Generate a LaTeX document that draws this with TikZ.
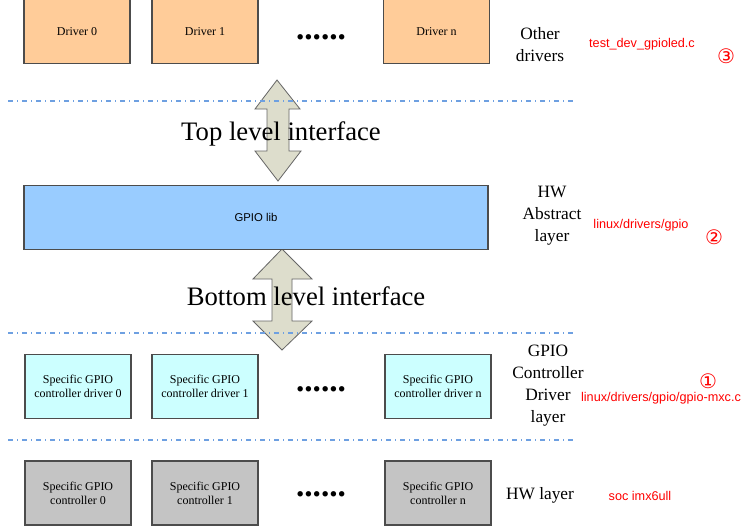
\documentclass[tikz,border=0pt]{standalone}
\usepackage{fontspec}
\setmainfont{Liberation Serif}
\newfontfamily\pathfont{Liberation Sans}
\newfontfamily\circfont{DejaVu Sans}

\definecolor{drvorange}{RGB}{255,204,153}
\definecolor{libblue}{RGB}{153,204,255}
\definecolor{ctrlcyan}{RGB}{204,255,255}
\definecolor{hwgray}{RGB}{196,196,196}
\definecolor{ifacefill}{RGB}{221,221,204}
\definecolor{sepblue}{RGB}{110,160,225}

\tikzset{
  layerbox/.style={draw=black!70, line width=0.9pt, minimum width=79.5pt,
    minimum height=48pt, align=center, inner sep=1pt,
    font=\fontsize{9}{10.5}\selectfont},
  layername/.style={align=center, font=\fontsize{13}{16.5}\selectfont},
  ifacename/.style={anchor=base, font=\fontsize{20}{24}\selectfont},
  srcpath/.style={text=red, font=\pathfont\fontsize{9.5}{11}\selectfont},
  srcnum/.style={text=red, font=\circfont\fontsize{15}{16}\selectfont},
  moredots/.style={anchor=base, font=\fontsize{25}{26}\bfseries\selectfont},
  iface/.style={draw=black!60, fill=ifacefill, line width=0.6pt},
  layersep/.style={draw=sepblue, line width=0.8pt,
    dash pattern=on 3.75pt off 3pt on 0.75pt off 3pt}
}

\begin{document}
\begin{tikzpicture}[x=0.75pt,y=-0.75pt]
  \useasboundingbox[fill=white] (0,0) rectangle (745,529);

  % interfaces between the layers
  \draw[iface] (277,80) -- (300,109) -- (289,109) -- (289,151) -- (301,151)
    -- (278,181) -- (255,151) -- (267,151) -- (267,109) -- (255,109) -- cycle;
  \draw[iface] (282,249) -- (312,279) -- (292,279) -- (292,321) -- (312,321)
    -- (282,350) -- (253,321) -- (272,321) -- (272,279) -- (253,279) -- cycle;

  % layer separators
  \draw[layersep] (8,101) -- (576,101);
  \draw[layersep] (8,333) -- (576,333);
  \draw[layersep] (8,440) -- (576,440);

  % other drivers
  \node[layerbox, fill=drvorange] (drv0) at (77,31.5) {Driver 0};
  \node[layerbox, fill=drvorange] (drv1) at (205,31.5) {Driver 1};
  \node[layerbox, fill=drvorange] (drvn) at (436.5,31.5) {Driver n};
  \node[moredots] (drvdots) at (321,39) {......};

  % gpio lib
  \node[layerbox, fill=libblue, minimum width=348pt,
    font=\pathfont\fontsize{8.5}{10}\selectfont] (gpiolib) at (256,217.5) {GPIO lib};

  % controller drivers
  \node[layerbox, fill=ctrlcyan] (ctl0) at (78,386.5) {Specific GPIO\\controller driver 0};
  \node[layerbox, fill=ctrlcyan] (ctl1) at (205,386.5) {Specific GPIO\\controller driver 1};
  \node[layerbox, fill=ctrlcyan] (ctln) at (438,386.5) {Specific GPIO\\controller driver n};
  \node[moredots] (ctldots) at (321,391) {......};

  % hardware
  \node[layerbox, fill=hwgray] (hw0) at (78,493) {Specific GPIO\\controller 0};
  \node[layerbox, fill=hwgray] (hw1) at (205,493) {Specific GPIO\\controller 1};
  \node[layerbox, fill=hwgray] (hwn) at (438,493) {Specific GPIO\\controller n};
  \node[moredots] (hwdots) at (321,496) {......};

  % interface names
  \node[ifacename] (topif) at (281,140) {Top level interface};
  \node[ifacename] (botif) at (306,305) {Bottom level interface};

  % layer names
  \node[layername] (othername) at (540,45) {Other\\drivers};
  \node[layername] (absname) at (552,216) {HW\\Abstract\\layer};
  \node[layername] (ctlname) at (548,386) {GPIO\\Controller\\Driver\\layer};
  \node[layername] (hwname) at (540,495) {HW layer};

  % sources
  \node[srcpath] (src3) at (642,44) {test\_dev\_gpioled.c};
  \node[srcnum] (num3) at (726,56) {③};
  \node[srcpath] (src2) at (641,225) {linux/drivers/gpio};
  \node[srcnum] (num2) at (714,237) {②};
  \node[srcpath] (src1) at (661,398) {linux/drivers/gpio/gpio-mxc.c};
  \node[srcnum] (num1) at (708,381) {①};
  \node[srcpath] (src0) at (640,496) {soc imx6ull};
\end{tikzpicture}
\end{document}
